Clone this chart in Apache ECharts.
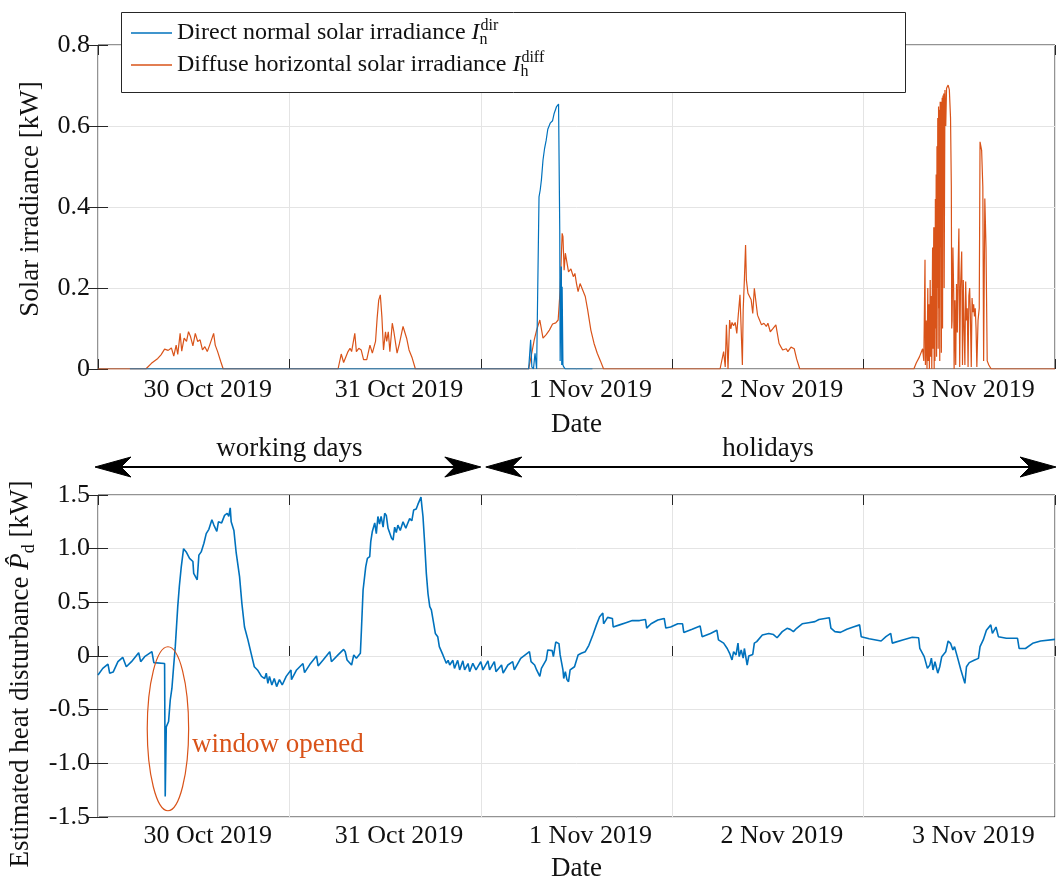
<!DOCTYPE html>
<html>
<head>
<meta charset="utf-8">
<script src="https://cdn.jsdelivr.net/npm/echarts@6/dist/echarts.min.js"></script>
<style>html,body{margin:0;padding:0;background:#fff}#c{width:1056px;height:884px}</style>
</head>
<body>
<div id="c"></div>
<script>
// ---------- data (hours since 30 Oct 2019 00:00) ----------
const dayLabels = ['30 Oct 2019', '31 Oct 2019', '1 Nov 2019', '2 Nov 2019', '3 Nov 2019'];
const irrTicks = [0, 0.2, 0.4, 0.6, 0.8];
const distTicks = [-1.5, -1.0, -0.5, 0, 0.5, 1.0, 1.5];

const directHours = [4.0, 54.0, 54.25, 54.4, 54.6, 54.8, 55.0, 55.2, 55.3, 55.45, 55.6, 55.8, 56.0, 56.2, 56.4, 56.7, 57.0, 57.2, 57.5, 57.75, 57.9, 57.95, 58.1, 58.15, 58.2, 58.3, 58.4, 58.6, 62.0];
const directValues = [0, 0, 0.072, 0.005, 0, 0.039, 0, 0, 0.425, 0.442, 0.467, 0.516, 0.545, 0.565, 0.592, 0.607, 0.613, 0.631, 0.648, 0.654, 0.343, 0.02, 0.253, 0.01, 0.203, 0.01, 0.005, 0, 0];

const diffuseHours = [0, 6.0, 6.7, 7.5, 7.9, 8.35, 8.8, 9.2, 9.5, 9.8, 10.0, 10.3, 10.5, 10.8, 11.1, 11.35, 11.6, 11.9, 12.2, 12.5, 12.8, 13.1, 13.4, 13.7, 14.0, 14.5, 14.7, 15.0, 15.4, 15.7,
  30.1, 30.5, 30.8, 31.35, 31.6, 31.8, 32.2, 32.4, 32.7, 33.0, 33.3, 33.7, 34.1, 34.4, 34.8, 35.0, 35.2, 35.4, 35.6, 35.8, 36.05, 36.2, 36.4, 36.6, 36.9, 37.1, 37.3, 37.5, 37.8, 38.25, 38.7, 39.0, 39.4, 39.8,
  54.0, 54.3, 54.7, 55.0, 55.4, 55.8, 56.2, 56.6, 57.0, 57.4, 57.7, 57.95, 58.2, 58.3, 58.45, 58.6, 58.75, 59.0, 59.3, 59.6, 59.8, 60.0, 60.2, 60.45, 60.7, 61.1, 61.4, 61.8, 62.2, 62.6, 63.0, 63.4,
  78.0, 78.45, 78.65, 78.8, 79.0, 79.2, 79.35, 79.5, 79.7, 79.9, 80.1, 80.3, 80.5, 80.75, 80.8, 80.9, 81.05, 81.2, 81.3, 81.5, 81.7, 81.9, 82.1, 82.3, 82.5, 82.7, 82.95, 83.2, 83.5, 83.8, 84.0, 84.3, 84.6, 85.0, 85.2, 85.4, 85.65, 85.85, 86.3, 86.5, 86.9, 87.3, 87.6, 88.0,
  102.3, 102.6, 103.0, 103.4, 103.55, 103.7, 103.75, 103.85, 103.95, 104.05, 104.1, 104.2, 104.25, 104.35, 104.4, 104.5, 104.55, 104.65, 104.7, 104.8, 104.85,
  104.9, 104.95, 105.0, 105.05, 105.1, 105.15, 105.2, 105.25, 105.3, 105.35, 105.4, 105.45, 105.5, 105.55, 105.6, 105.65, 105.7, 105.75, 105.85, 105.9, 105.95, 106.0, 106.05, 106.1, 106.2, 106.3, 106.4, 106.5, 106.6, 106.75, 106.9, 107.0, 107.05,
  107.1, 107.2, 107.3, 107.35, 107.45, 107.55, 107.65, 107.75, 107.85, 107.95, 108.05, 108.15, 108.3, 108.4, 108.5, 108.6, 108.7, 108.8, 108.9, 109.0, 109.1, 109.2, 109.3, 109.4, 109.5, 109.6, 109.7, 109.8, 109.9, 110.0, 110.1, 110.2, 110.35, 110.5,
  110.6, 110.8, 110.95, 111.05, 111.2, 111.35, 111.5, 111.7, 112.0, 120.0];
const diffuseValues = [0, 0, 0.014, 0.026, 0.035, 0.049, 0.046, 0.052, 0.032, 0.059, 0.036, 0.088, 0.044, 0.076, 0.068, 0.092, 0.080, 0.057, 0.088, 0.068, 0.072, 0.047, 0.055, 0.043, 0.059, 0.088, 0.059, 0.043, 0.018, 0,
  0, 0.037, 0.016, 0.043, 0.051, 0.043, 0.088, 0.043, 0.051, 0.047, 0.023, 0.023, 0.059, 0.039, 0.068, 0.125, 0.170, 0.183, 0.128, 0.047, 0.092, 0.068, 0.092, 0.043, 0.113, 0.092, 0.096, 0.039, 0.063, 0.105, 0.076, 0.047, 0.027, 0,
  0, 0.03, 0.072, 0.096, 0.121, 0.076, 0.085, 0.096, 0.111, 0.114, 0.121, 0.195, 0.335, 0.327, 0.244, 0.286, 0.288, 0.24, 0.247, 0.228, 0.236, 0.211, 0.191, 0.211, 0.207, 0.179, 0.146, 0.096, 0.063, 0.039, 0.02, 0,
  0, 0.043, 0.005, 0.109, 0, 0.121, 0.099, 0.115, 0.107, 0.115, 0.088, 0.137, 0.183, 0.179, 0.01, 0.146, 0.22, 0.306, 0.22, 0.187, 0.183, 0.171, 0.137, 0.199, 0.166, 0.133, 0.121, 0.109, 0.113, 0.105, 0.113, 0.092, 0.099, 0.109, 0.105, 0.063, 0.054, 0.047, 0.05, 0.043, 0.054, 0.05, 0.025, 0,
  0, 0.015, 0.03, 0.05, 0.02, 0.27, 0.01, 0.12, 0.0, 0.2, 0.02, 0.16, 0.0, 0.22, 0.03, 0.18, 0.0, 0.3, 0.05, 0.35, 0.0,
  0.35, 0.02, 0.42, 0.1, 0.48, 0.03, 0.55, 0.2, 0.62, 0.05, 0.648, 0.15, 0.64, 0.02, 0.66, 0.3, 0.66, 0.04, 0.67, 0.1, 0.675, 0.45, 0.68, 0.2, 0.689, 0.6, 0.693, 0.69, 0.701, 0.69, 0.62, 0.45, 0.1,
  0.12, 0.3, 0.183, 0.0, 0.17, 0.01, 0.21, 0.09, 0.25, 0.347, 0.005, 0.2, 0.29, 0.01, 0.22, 0.1, 0.01, 0.216, 0.12, 0.15, 0.005, 0.18, 0.2, 0.12, 0.005, 0.175, 0.14, 0.16, 0.13, 0.15, 0.1, 0.005, 0.12, 0.15,
  0.561, 0.54, 0.45, 0.02, 0.421, 0.3, 0.02, 0.01, 0, 0];

const disturbanceHours = [0, 0.6, 1.25, 1.46, 1.9, 2.5, 3.1, 3.55, 4.2, 5.1, 5.35, 5.85, 6.76, 7.0, 8.35, 8.43, 8.56, 8.85, 9.06, 9.27, 9.48, 9.69, 10.0, 10.2, 10.44, 10.73, 11.06, 11.48, 11.9, 12.0, 12.44, 12.65, 12.94, 13.28, 13.57, 13.9, 14.28, 14.53, 14.9, 15.1, 15.5, 15.87, 16.2, 16.4, 16.58, 16.7, 17.04, 17.33, 17.75, 18.04, 18.37, 18.8, 19.2, 19.6, 20.0, 20.5, 20.9, 21.1, 21.3, 21.5, 21.8, 22.1, 22.4, 22.75, 23.1, 23.6, 24.2,
  24.26, 24.9, 25.7, 25.9, 26.55, 27.4, 27.6, 28.2, 29.06, 29.27, 30.1, 30.8, 31.0, 31.23, 31.8, 32.07, 32.4, 32.9, 33.03, 33.24, 33.57, 33.78, 34.07, 34.2, 34.4, 34.7, 34.9, 35.1, 35.3, 35.5, 35.75, 35.95, 36.15, 36.37, 36.8, 37.0, 37.2, 37.4, 37.6, 37.9, 38.25, 38.6, 38.75, 39.08, 39.35, 39.58, 39.9, 40.1, 40.3, 40.5, 40.62, 40.75, 40.96, 41.17, 41.38, 41.6, 41.8, 42.1, 42.3, 42.6, 42.8, 43.25, 43.67, 43.9, 44.1, 44.5, 44.7, 45.1, 45.35, 45.75, 45.97, 46.4, 46.6, 47.0, 47.4, 48.0, 48.27,
  48.9, 49.1, 49.7, 49.9, 50.6, 50.8, 51.4, 52.0, 52.2, 53.0, 54.1, 54.3, 54.75, 55.0, 55.4, 55.6, 56.2, 56.4, 56.95, 57.1, 57.4, 57.8, 57.95, 58.3, 58.4, 58.6, 58.8, 59.0, 59.2, 59.75, 60.0, 60.2, 60.6, 61.1, 61.55, 62.05, 62.5, 62.9, 63.3, 63.4, 63.9, 64.5, 64.6, 65.4, 66.2, 67.0, 67.9, 68.65, 68.8, 69.35, 70.2, 71.0, 71.2, 71.8, 72.7,
  73.3, 73.45, 74.5, 75.5, 75.75, 76.8, 77.6, 77.8, 78.45, 78.9, 79.2, 79.5, 79.7, 80.0, 80.25, 80.4, 80.65, 80.9, 81.05, 81.4, 81.6, 82.1, 82.3, 82.6, 83.3, 84.1, 84.7, 85.15, 85.8, 86.4, 86.8, 87.2, 87.6, 88.3, 89.1, 89.9, 90.4, 91.7, 91.9, 92.4, 93.1, 93.9, 94.7, 95.5, 95.7,
  96.7, 98.2, 98.8, 99.4, 99.6, 100.9, 102.1, 102.9, 103.05, 103.6, 104.0, 104.3, 104.5, 104.7, 104.95, 105.3, 105.55, 105.8, 106.3, 106.6, 106.9, 107.2, 107.4, 107.8, 108.2, 108.7, 108.9, 109.25, 109.85, 110.4, 110.6, 111.0, 111.4, 111.95, 112.15, 112.6, 112.9, 113.9, 115.3, 115.5, 116.3, 117.2, 118.2, 120.0];
const disturbanceValues = [-0.177, -0.115, -0.075, -0.16, -0.15, -0.053, -0.012, -0.1, -0.053, 0.03, -0.053, -0.006, 0.04, -0.062, -0.07, -1.31, -0.66, -0.61, -0.41, -0.3, -0.1, 0.087, 0.46, 0.65, 0.83, 1.0, 0.97, 0.91, 0.88, 0.77, 0.71, 0.94, 0.97, 1.05, 1.14, 1.18, 1.27, 1.22, 1.16, 1.25, 1.24, 1.31, 1.33, 1.3, 1.38, 1.25, 1.17, 0.96, 0.74, 0.49, 0.27, 0.15, 0.025, -0.1, -0.13, -0.19, -0.21, -0.16, -0.255, -0.19, -0.27, -0.21, -0.285, -0.22, -0.27, -0.19, -0.13,
  -0.22, -0.13, -0.07, -0.155, -0.08, 0, -0.093, -0.04, 0.04, -0.053, 0.01, 0.062, 0.04, -0.037, -0.084, 0.01, -0.02, 0.025, 0.24, 0.615, 0.83, 0.91, 0.925, 1.065, 1.16, 1.24, 1.14, 1.3, 1.23, 1.3, 1.2, 1.33, 1.31, 1.19, 1.1, 1.08, 1.2, 1.15, 1.22, 1.17, 1.25, 1.19, 1.22, 1.28, 1.26, 1.36, 1.37, 1.41, 1.42, 1.48, 1.39, 1.3, 1.05, 0.77, 0.58, 0.46, 0.43, 0.3, 0.21, 0.18, 0.087, 0.01, -0.068, -0.04, -0.084, -0.04, -0.115, -0.04, -0.13, -0.045, -0.13, -0.07, -0.146, -0.068, -0.13, -0.053, -0.13,
  -0.045, -0.13, -0.053, -0.146, -0.084, -0.16, -0.084, -0.053, -0.13, -0.022, 0.04, -0.053, -0.084, -0.13, -0.19, -0.115, -0.037, 0.056, 0.05, -0.006, 0.13, 0.115, 0.01, -0.13, -0.21, -0.146, -0.22, -0.24, -0.13, -0.1, -0.1, 0.01, 0.025, 0.04, 0.1, 0.196, 0.29, 0.366, 0.4, 0.3, 0.36, 0.35, 0.27, 0.29, 0.31, 0.33, 0.33, 0.34, 0.26, 0.3, 0.335, 0.35, 0.26, 0.27, 0.3,
  0.3, 0.22, 0.25, 0.28, 0.18, 0.21, 0.24, 0.15, 0.12, 0.07, 0.025, -0.037, 0.04, 0.01, 0.12, -0.006, 0.056, -0.02, 0.07, -0.085, 0.0, 0.015, 0.12, 0.134, 0.196, 0.21, 0.2, 0.17, 0.227, 0.258, 0.248, 0.227, 0.258, 0.3, 0.31, 0.32, 0.34, 0.357, 0.26, 0.227, 0.22, 0.25, 0.27, 0.29, 0.18,
  0.16, 0.14, 0.18, 0.21, 0.12, 0.15, 0.174, 0.17, 0.07, -0.006, -0.115, -0.085, -0.02, -0.13, -0.053, -0.16, -0.1, -0.006, 0.04, 0.14, 0.118, 0.056, 0.087, -0.02, -0.13, -0.255, -0.1, -0.062, -0.04, -0.022, 0.087, 0.15, 0.24, 0.29, 0.21, 0.27, 0.18, 0.165, 0.165, 0.07, 0.07, 0.118, 0.14, 0.155];

// ---------- styling ----------
const FONT = 'Liberation Serif';
const FS_TICK = 26;
const FS_NAME = 27;
const FS_LEG = 24;
const FS_NOTE = 27;
const DARK = '#262626';
const TEXT = '#111111';
const GRIDC = '#e4e4e4';
const BLUE = '#0072BD';
const ORANGE = '#D95319';

function zip(hs, vs) { return hs.map((h, i) => [h, vs[i]]); }
function fmtTick(v) { return v === 0 ? '0' : v.toFixed(1); }

const chart = echarts.init(document.getElementById('c'), null, { renderer: 'canvas' });

const tickStyle = { show: true, inside: true, length: 10, lineStyle: { color: DARK, width: 1 } };

function xAxesFor(gi, nameGap, labelMargin) {
  const base = { type: 'value', gridIndex: gi, min: 0, max: 120 };
  return [
    Object.assign({}, base, {
      interval: 24, position: 'bottom',
      axisLine: { show: false }, axisTick: tickStyle, axisLabel: { show: false },
      splitLine: { show: true, lineStyle: { color: GRIDC, width: 1 } }
    }),
    Object.assign({}, base, {
      interval: 12, position: 'bottom',
      axisLine: { show: false }, axisTick: { show: false }, splitLine: { show: false },
      axisLabel: {
        show: true, color: TEXT, fontFamily: FONT, fontSize: FS_TICK, margin: labelMargin,
        padding: [0, 0, 0, 28],
        formatter: v => (v % 24 === 12 ? dayLabels[(v - 12) / 24] : '')
      },
      name: 'Date', nameLocation: 'middle', nameGap: nameGap,
      nameTextStyle: { color: TEXT, fontFamily: FONT, fontSize: FS_NAME }
    }),
    Object.assign({}, base, {
      interval: 24, position: 'top',
      axisLine: { show: false }, axisTick: tickStyle, axisLabel: { show: false }, splitLine: { show: false }
    })
  ];
}

function yAxesFor(gi, ticks, name, nameGap, rich, namePadding) {
  const min = ticks[0], max = ticks[ticks.length - 1], step = ticks[1] - ticks[0];
  const base = { type: 'value', gridIndex: gi, min: min, max: max, interval: step };
  return [
    Object.assign({}, base, {
      position: 'left',
      axisLine: { show: false }, axisTick: tickStyle,
      axisLabel: { show: true, color: TEXT, fontFamily: FONT, fontSize: FS_TICK, margin: 8, formatter: fmtTick },
      splitLine: { show: true, lineStyle: { color: GRIDC, width: 1 } },
      name: name, nameLocation: 'middle', nameRotate: 90, nameGap: nameGap,
      nameTextStyle: Object.assign({ color: TEXT, fontFamily: FONT, fontSize: FS_NAME, padding: namePadding }, rich ? { rich: rich } : {})
    }),
    Object.assign({}, base, {
      position: 'right',
      axisLine: { show: false }, axisTick: tickStyle, axisLabel: { show: false }, splitLine: { show: false }
    })
  ];
}

const mathRich = {
  n: { fontFamily: FONT, fontSize: FS_NAME, color: TEXT, lineHeight: 34 },
  i: { fontFamily: FONT, fontSize: FS_NAME, color: TEXT, fontStyle: 'italic', lineHeight: 34 },
  s: { fontFamily: FONT, fontSize: 18, color: TEXT, lineHeight: 18, verticalAlign: 'bottom' }
};

const legendRich = {
  t: { fontFamily: FONT, fontSize: FS_LEG, color: TEXT, lineHeight: 30 },
  i: { fontFamily: FONT, fontSize: FS_LEG, color: TEXT, fontStyle: 'italic', lineHeight: 30 },
  sub: { fontFamily: FONT, fontSize: 16, color: TEXT, lineHeight: 15, verticalAlign: 'bottom', width: 1 },
  sup: { fontFamily: FONT, fontSize: 16, color: TEXT, lineHeight: 15, verticalAlign: 'top' }
};

const NAME_DIR = 'Direct normal solar irradiance';
const NAME_DIFF = 'Diffuse horizontal solar irradiance';

const option = {
  animation: false,
  backgroundColor: '#fff',
  textStyle: { fontFamily: FONT },
  grid: [
    { left: 98, top: 45, width: 957, height: 324, show: true, borderColor: DARK, borderWidth: 1,
      backgroundColor: 'rgba(0,0,0,0)', outerBoundsMode: 'none', containLabel: false },
    { left: 98, top: 495, width: 957, height: 322, show: true, borderColor: DARK, borderWidth: 1,
      backgroundColor: 'rgba(0,0,0,0)', outerBoundsMode: 'none', containLabel: false }
  ],
  xAxis: [].concat(xAxesFor(0, 42, 8), xAxesFor(1, 38, 6)),
  yAxis: [].concat(
    yAxesFor(0, irrTicks, 'Solar irradiance [kW]', 54, null, [0, 0, 0, 16]),
    yAxesFor(1, distTicks, '{n|Estimated heat disturbance }{i|P\u0302}{s|d}{n| [kW]}', 53, mathRich, [0, 36, 0, 0])
  ),
  legend: {
    show: true, orient: 'vertical', left: 131, top: 18, z: 10,
    data: [NAME_DIR, NAME_DIFF],
    selectedMode: false,
    icon: 'rect', itemWidth: 41, itemHeight: 1.5, itemGap: 2,
    padding: 0,
    textStyle: { fontFamily: FONT, fontSize: FS_LEG, color: TEXT, rich: legendRich },
    formatter: name => name === NAME_DIR
      ? '{t|Direct normal solar irradiance }{i|I}{sub|n}{sup|dir}'
      : '{t|Diffuse horizontal solar irradiance }{i|I}{sub|h}{sup|diff}'
  },
  series: [
    { name: NAME_DIFF, type: 'line', xAxisIndex: 0, yAxisIndex: 0, data: zip(diffuseHours, diffuseValues),
      showSymbol: false, symbol: 'none', lineStyle: { color: ORANGE, width: 1.2 }, itemStyle: { color: ORANGE }, z: 3 },
    { name: NAME_DIR, type: 'line', xAxisIndex: 0, yAxisIndex: 0, data: zip(directHours, directValues),
      showSymbol: false, symbol: 'none', lineStyle: { color: BLUE, width: 1.2 }, itemStyle: { color: BLUE }, z: 4 },
    { name: 'Estimated heat disturbance', type: 'line', xAxisIndex: 3, yAxisIndex: 2, data: zip(disturbanceHours, disturbanceValues),
      showSymbol: false, symbol: 'none', lineStyle: { color: BLUE, width: 1.6 }, itemStyle: { color: BLUE }, z: 4 }
  ]
};

chart.setOption(option);

// ---------- annotations ----------
const xPx = h => chart.convertToPixel({ xAxisIndex: 3 }, h);
const yPx = v => chart.convertToPixel({ yAxisIndex: 2 }, v);

function arrowHead(tipX, y, dir) {
  const L = 36, W = 10, N = 26;
  return {
    type: 'polygon', z: 20,
    shape: { points: [[tipX, y], [tipX - dir * L, y - W], [tipX - dir * N, y], [tipX - dir * L, y + W]] },
    style: { fill: '#000', stroke: '#000', lineWidth: 1 }
  };
}

const arrowY = 467;
const xStart = xPx(0), xMid = xPx(48), xEnd = xPx(120);
const wTipL = xStart - 3, wTipR = xMid, hTipL = xMid + 5, hTipR = xEnd + 1;

const graphics = [
  { type: 'rect', z: 8, shape: { x: 121.5, y: 12.5, width: 784, height: 80 },
    style: { fill: '#fff', stroke: DARK, lineWidth: 1 } },
  { type: 'line', z: 20, shape: { x1: wTipL + 20, y1: arrowY, x2: wTipR - 20, y2: arrowY }, style: { stroke: '#000', lineWidth: 2 } },
  arrowHead(wTipL, arrowY, -1), arrowHead(wTipR, arrowY, 1),
  { type: 'line', z: 20, shape: { x1: hTipL + 20, y1: arrowY, x2: hTipR - 20, y2: arrowY }, style: { stroke: '#000', lineWidth: 2 } },
  arrowHead(hTipL, arrowY, -1), arrowHead(hTipR, arrowY, 1),
  { type: 'text', z: 20, x: xPx(24), y: 449,
    style: { text: 'working days', fontFamily: FONT, fontSize: FS_NOTE, fill: TEXT, align: 'center', verticalAlign: 'middle' } },
  { type: 'text', z: 20, x: xPx(84), y: 449,
    style: { text: 'holidays', fontFamily: FONT, fontSize: FS_NOTE, fill: TEXT, align: 'center', verticalAlign: 'middle' } },
  { type: 'ellipse', z: 20, shape: { cx: xPx(8.77), cy: yPx(-0.678), rx: 20.7, ry: 82 },
    style: { fill: 'none', stroke: ORANGE, lineWidth: 1.2 } },
  { type: 'text', z: 20, x: xPx(11.8), y: yPx(-0.83),
    style: { text: 'window opened', fontFamily: FONT, fontSize: FS_NOTE, fill: ORANGE, align: 'left', verticalAlign: 'middle' } }
];

chart.setOption({ graphic: { elements: graphics } });
</script>
</body>
</html>
